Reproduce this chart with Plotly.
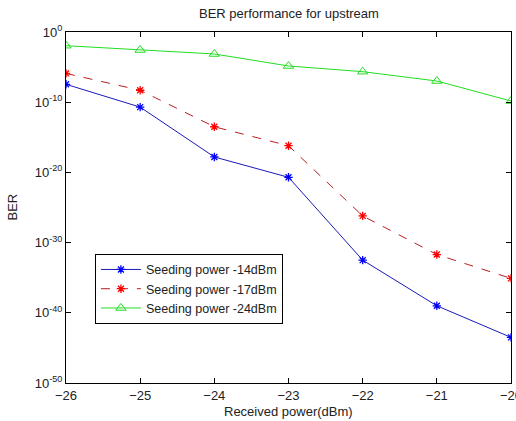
import plotly.graph_objects as go

received_power = [-26, -25, -24, -23, -22, -21, -20]
ber_14 = [10**-7.45, 10**-10.7, 10**-17.8, 10**-20.7, 10**-32.5, 10**-39.0, 10**-43.5]
ber_17 = [10**-5.9, 10**-8.3, 10**-13.5, 10**-16.2, 10**-26.2, 10**-31.7, 10**-35.1]
ber_24 = [10**-1.95, 10**-2.56, 10**-3.13, 10**-4.84, 10**-5.65, 10**-6.98, 10**-9.83]
names = ["Seeding power -14dBm", "Seeding power -17dBm", "Seeding power -24dBm"]
y_exponents = [0, -10, -20, -30, -40, -50]
y_tickvals = [10.0**e for e in y_exponents]
y_ticktext = ["10<sup>%d</sup>" % e for e in y_exponents]

FONT = "Liberation Sans, Arial"

fig = go.Figure()
fig.add_trace(go.Scatter(x=received_power, y=ber_14, name=names[0], mode="lines+markers",
                         line=dict(color="#1a1ab8", width=1),
                         marker=dict(symbol="asterisk-open", size=7, color="#0000ff",
                                     line=dict(width=1.3, color="#0000ff"))))
fig.add_trace(go.Scatter(x=received_power, y=ber_17, name=names[1], mode="lines+markers",
                         line=dict(color="#b82020", width=1, dash="dash"),
                         marker=dict(symbol="asterisk-open", size=7, color="#ff0000",
                                     line=dict(width=1.3, color="#ff0000"))))
fig.add_trace(go.Scatter(x=received_power, y=ber_24, name=names[2], mode="lines+markers",
                         line=dict(color="#22dd22", width=1),
                         marker=dict(symbol="triangle-up-open", size=9, color="#22dd22",
                                     line=dict(width=1, color="#22dd22"))))

axis_common = dict(showline=True, linecolor="black", linewidth=1, mirror="ticks",
                   ticks="inside", ticklen=5, tickcolor="black", showgrid=False, zeroline=False,
                   automargin=False, ticklabeloverflow="allow",
                   tickfont=dict(family=FONT, size=13, color="#222"))

fig.update_layout(
    width=516, height=421,
    margin=dict(l=66, r=5, t=32, b=38),
    paper_bgcolor="white", plot_bgcolor="white",
    title=dict(text="BER performance for upstream", x=0.56, xanchor="center", y=0.978, yanchor="top",
               font=dict(family=FONT, size=13, color="#222")),
    xaxis=dict(range=[-26, -20], dtick=1, **axis_common),
    yaxis=dict(type="log", range=[-50, 0], tickmode="array", tickvals=y_tickvals,
               ticktext=y_ticktext, **axis_common),
    legend=dict(x=0.065, y=0.368, xanchor="left", yanchor="top", bgcolor="white",
                bordercolor="black", borderwidth=1,
                font=dict(family=FONT, size=12.5, color="#222"),
                tracegroupgap=0, itemwidth=40),
    showlegend=True,
    annotations=[
        dict(text="Received power(dBm)", xref="paper", yref="paper", x=0.5, y=0,
             yshift=-19, xanchor="center", yanchor="top", showarrow=False,
             font=dict(family=FONT, size=13, color="#222")),
        dict(text="BER", xref="paper", yref="paper", x=0, y=0.5, xshift=-54,
             xanchor="center", yanchor="middle", textangle=-90, showarrow=False,
             font=dict(family=FONT, size=13, color="#222")),
    ],
)

fig.write_html("out.html", config={"displayModeBar": False},
               post_script="document.body.style.margin='0';document.body.style.padding='0';")
